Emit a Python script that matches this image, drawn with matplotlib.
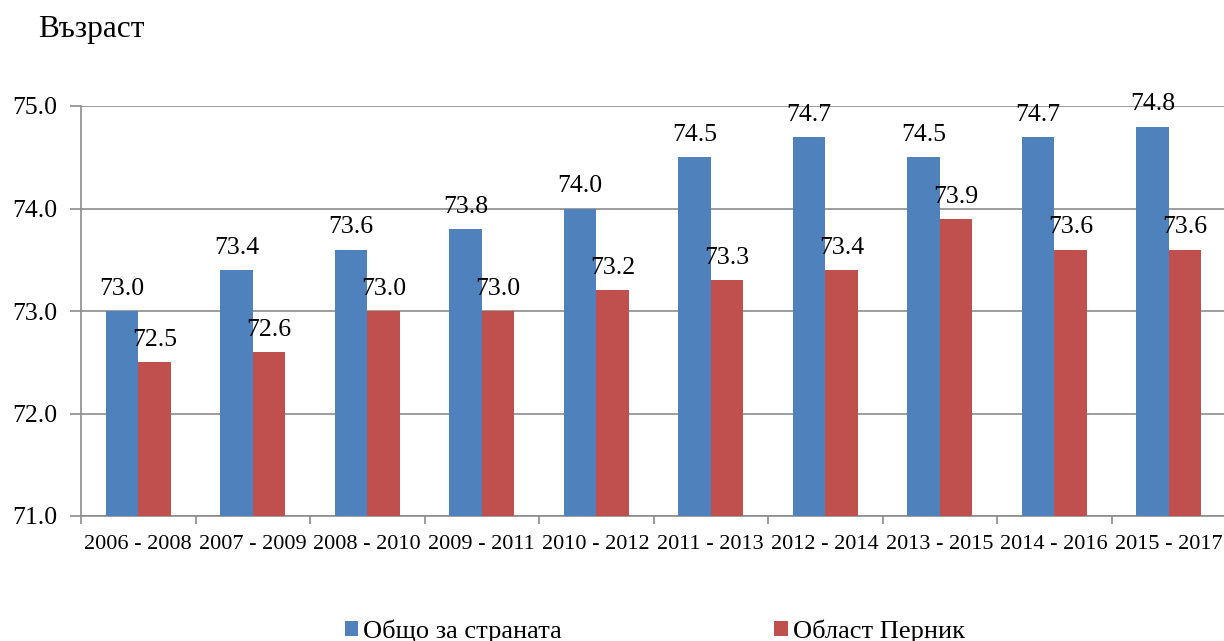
import matplotlib
matplotlib.use("Agg")
import matplotlib.pyplot as plt
import numpy as np

plt.rcParams['font.family'] = ['Liberation Serif', 'DejaVu Serif']

periods = ["2006 - 2008", "2007 - 2009", "2008 - 2010", "2009 - 2011", "2010 - 2012",
           "2011 - 2013", "2012 - 2014", "2013 - 2015", "2014 - 2016", "2015 - 2017"]
country = [73.0, 73.4, 73.6, 73.8, 74.0, 74.5, 74.7, 74.5, 74.7, 74.8]
pernik = [72.5, 72.6, 73.0, 73.0, 73.2, 73.3, 73.4, 73.9, 73.6, 73.6]

W, H = 1224, 641
fig = plt.figure(figsize=(W / 100, H / 100), dpi=100, facecolor='w')
ax = fig.add_axes([81 / W, 1 - 516 / H, 1145 / W, 410 / H])

x = np.arange(len(periods))
bw = 0.285
grid_c = '#8c8c8c'

b1 = ax.bar(x - bw / 2, [v - 71 for v in country], bw, bottom=71, color='#4F81BD', label='Общо за страната', zorder=3)
b2 = ax.bar(x + bw / 2, [v - 71 for v in pernik], bw, bottom=71, color='#C0504D', label='Област Перник', zorder=3)

for xi, v in zip(x, country):
    ax.annotate(f"{v:.1f}", (xi - bw / 2, v), xytext=(0, 8), textcoords='offset points',
                ha='center', va='bottom', fontsize=18.5, zorder=4)
for xi, v in zip(x, pernik):
    ax.annotate(f"{v:.1f}", (xi + bw / 2, v), xytext=(0, 8), textcoords='offset points',
                ha='center', va='bottom', fontsize=18.5, zorder=4)

ax.set_ylim(71, 75)
ax.set_xlim(-0.5, len(periods) - 0.5)
ax.set_yticks([71, 72, 73, 74, 75])
ax.set_yticklabels([f"{t:.1f}" for t in [71, 72, 73, 74, 75]], fontsize=18.5)
ax.yaxis.grid(True, color=grid_c, linewidth=1.2, zorder=0)
ax.set_xticks(x)
ax.set_xticklabels(periods, fontsize=16)
ax.set_xticks(np.arange(-0.5, len(periods)), minor=True)
ax.tick_params(axis='x', which='major', length=0, pad=14)
ax.tick_params(axis='x', which='minor', length=6, color=grid_c, width=1.2)
ax.tick_params(axis='y', length=8, color=grid_c, width=1.2, pad=9)

for s in ['top', 'right']:
    ax.spines[s].set_visible(False)
for s in ['left', 'bottom']:
    ax.spines[s].set_color(grid_c)
    ax.spines[s].set_linewidth(1.2)

fig.text(38 / W, 1 - 29 / H, 'Възраст', fontsize=22.5, va='center', ha='left')

fig.legend(handles=[b1, b2], loc='center', bbox_to_anchor=(0.535, 1 - 631 / H), ncol=2,
           frameon=False, fontsize=19, columnspacing=8.05, handlelength=0.5,
           handleheight=0.5, handletextpad=0.2)

fig.savefig('out.png', dpi=100)
